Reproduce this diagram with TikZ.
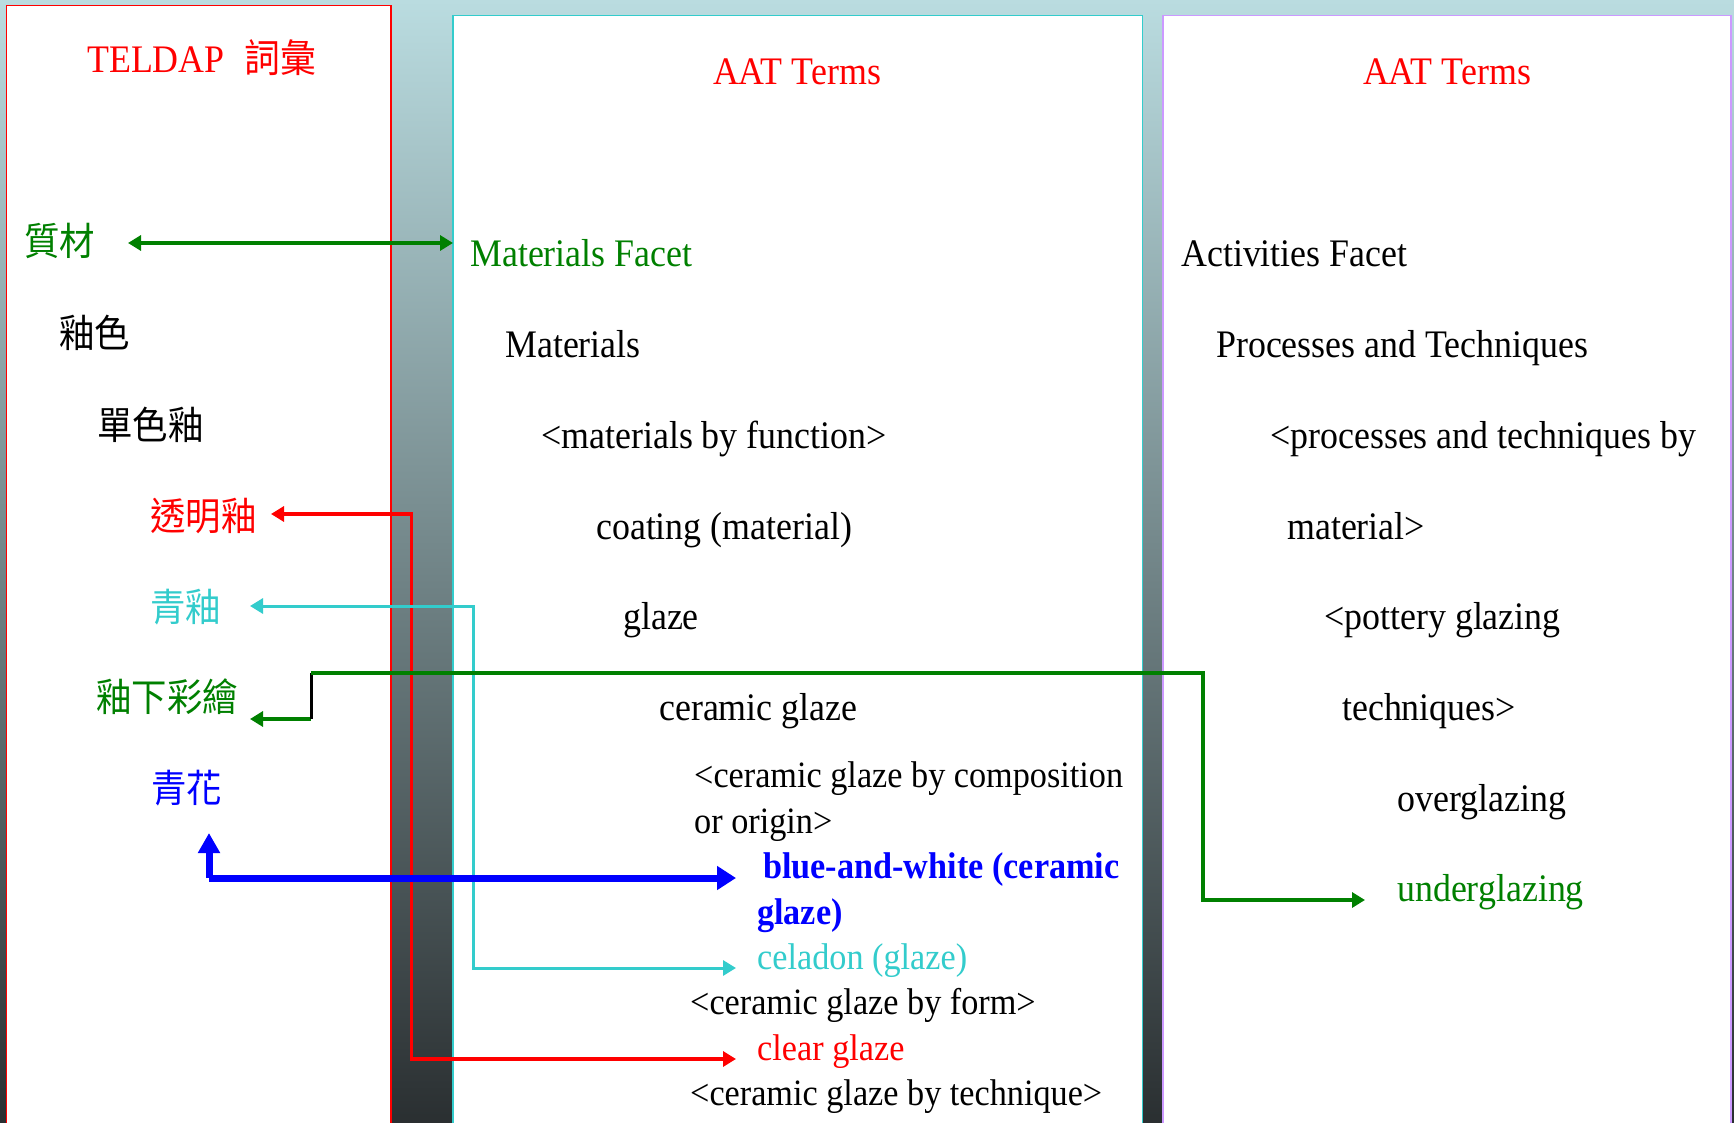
\documentclass[tikz,border=0pt]{standalone}
\usepackage{fontspec}
\setmainfont[FakeStretch=0.92]{Liberation Serif}
\newfontfamily\cjk[FakeStretch=0.92]{Noto Sans CJK TC}
\usetikzlibrary{arrows.meta}
\definecolor{tgreen}{RGB}{0,128,0}
\definecolor{tcyan}{RGB}{51,204,204}
\definecolor{tblue}{RGB}{0,0,255}
\definecolor{tred}{RGB}{255,0,0}
\definecolor{tlav}{RGB}{204,153,255}
\definecolor{bgtop}{RGB}{186,220,224}
\definecolor{bgbot}{RGB}{42,47,49}
\tikzset{
  TipS/.tip={Triangle[length=13pt,width=15pt]},
  TipB/.tip={Triangle[length=19pt,width=23pt]},
  TipU/.tip={Triangle[length=20pt,width=21pt]}}
\begin{document}
\begin{tikzpicture}[x=1pt,y=-1pt,
  txt/.style={anchor=base west, inner sep=0pt, font=\fontsize{39}{46}\selectfont},
  stxt/.style={anchor=base west, inner sep=0pt, font=\fontsize{37.2}{44}\selectfont},
  ctxt/.style={anchor=base west, inner sep=0pt, font=\fontsize{38.5}{46}\selectfont\cjk},
  panel/.style={line width=1.5pt, fill=white},
  conn/.style={line width=3.2pt}]
\useasboundingbox (0,0) rectangle (1734,1123);
\clip (0,0) rectangle (1734,1123);
\shade[top color=bgtop, bottom color=bgbot] (0,0) rectangle (1734,1123);
% panels
\draw[panel, draw=tred] (6.5,5.7) rectangle (391,1140);
\draw[panel, draw=tcyan] (453,15.7) rectangle (1142.5,1140);
\draw[panel, draw=tlav] (1163,15.7) rectangle (1731,1140);
% titles
\node[txt, text=tred] (t1) at (87,72.7) {TELDAP\hspace{20pt}{\cjk 詞彙}};
\node[txt, anchor=base, text=tred] (t2) at (797,85) {AAT Terms};
\node[txt, anchor=base, text=tred] (t3) at (1447,85) {AAT Terms};
% left column
\node[ctxt, text=tgreen] (zhicai) at (24,256) {質材};
\node[ctxt] (yuse) at (59,347) {釉色};
\node[ctxt] (danse) at (97,439) {單色釉};
\node[ctxt, text=tred] (touming) at (150,530) {透明釉};
\node[ctxt, text=tcyan] (qingyou) at (150,621) {青釉};
\node[ctxt, text=tgreen] (youxia) at (96,711) {釉下彩繪};
\node[ctxt, text=tblue] (qinghua) at (151,802) {青花};
% middle column
\node[txt, text=tgreen] (matfacet) at (470,267) {Materials Facet};
\node[txt] (mat) at (505,357) {Materials};
\node[txt] (matfun) at (541,448) {<materials by function>};
\node[txt] (coating) at (596,539) {coating (material)};
\node[txt] (glaze) at (623,629) {glaze};
\node[txt] (cerglaze) at (659,720) {ceramic glaze};
\node[stxt] (bycomp) at (694,787) {<ceramic glaze by composition};
\node[stxt] (origin) at (694,833) {or origin>};
\node[stxt, text=tblue, font=\fontsize{37.2}{44}\selectfont\bfseries] (bw1) at (763,878) {blue-and-white (ceramic};
\node[stxt, text=tblue, font=\fontsize{37.2}{44}\selectfont\bfseries] (bw2) at (757,924) {glaze)};
\node[stxt, text=tcyan] (celadon) at (757,969) {celadon (glaze)};
\node[stxt] (byform) at (690,1014) {<ceramic glaze by form>};
\node[stxt, text=tred] (clear) at (757,1060) {clear glaze};
\node[stxt] (bytech) at (690,1105) {<ceramic glaze by technique>};
% right column
\node[txt] (actfacet) at (1181,267) {Activities Facet};
\node[txt] (proc) at (1216,357) {Processes and Techniques};
\node[txt] (procby) at (1270,448) {<processes and techniques by};
\node[txt] (material) at (1287,539) {material>};
\node[txt] (pottery) at (1324,629) {<pottery glazing};
\node[txt] (techn) at (1342,720) {techniques>};
\node[txt] (over) at (1397,811) {overglazing};
\node[txt, text=tgreen] (under) at (1397,901) {underglazing};
% connector points
\coordinate (gA) at (128,243);
\coordinate (gB) at (453,243);
\coordinate (rA) at (271,514);
\coordinate (rB) at (411.7,1059);
\coordinate (rC) at (736,1059);
\coordinate (cA) at (250,606);
\coordinate (cB) at (473,968);
\coordinate (cC) at (736,968);
\coordinate (uA) at (250,719);
\coordinate (uB) at (311,719);
\coordinate (uC) at (311,673);
\coordinate (uD) at (1203,900);
\coordinate (uE) at (1365,900);
\coordinate (bA) at (209,833);
\coordinate (bB) at (209,878);
\coordinate (bC) at (736,878);
% connectors
\draw[conn, line width=4pt, tgreen, TipS-TipS] (gA) -- (gB);
\draw[conn, tred, TipS-TipS] (rA) -| (rB) -- (rC);
\draw[conn, line width=3pt, tcyan, TipS-TipS] (cA) -| (cB) -- (cC);
\draw[conn, line width=3.5pt, tgreen, TipS-] (uA) -- (uB);
\draw[line width=3pt, black] (uB) -- (uC);
\draw[line width=3.2pt, tgreen, -TipS] (uC) -| (uD) -- (uE);
\draw[line width=7pt, tblue, TipU-] (bA) -- (bB);
\draw[line width=7pt, tblue, -TipB] (bB) -- (bC);
\end{tikzpicture}
\end{document}
